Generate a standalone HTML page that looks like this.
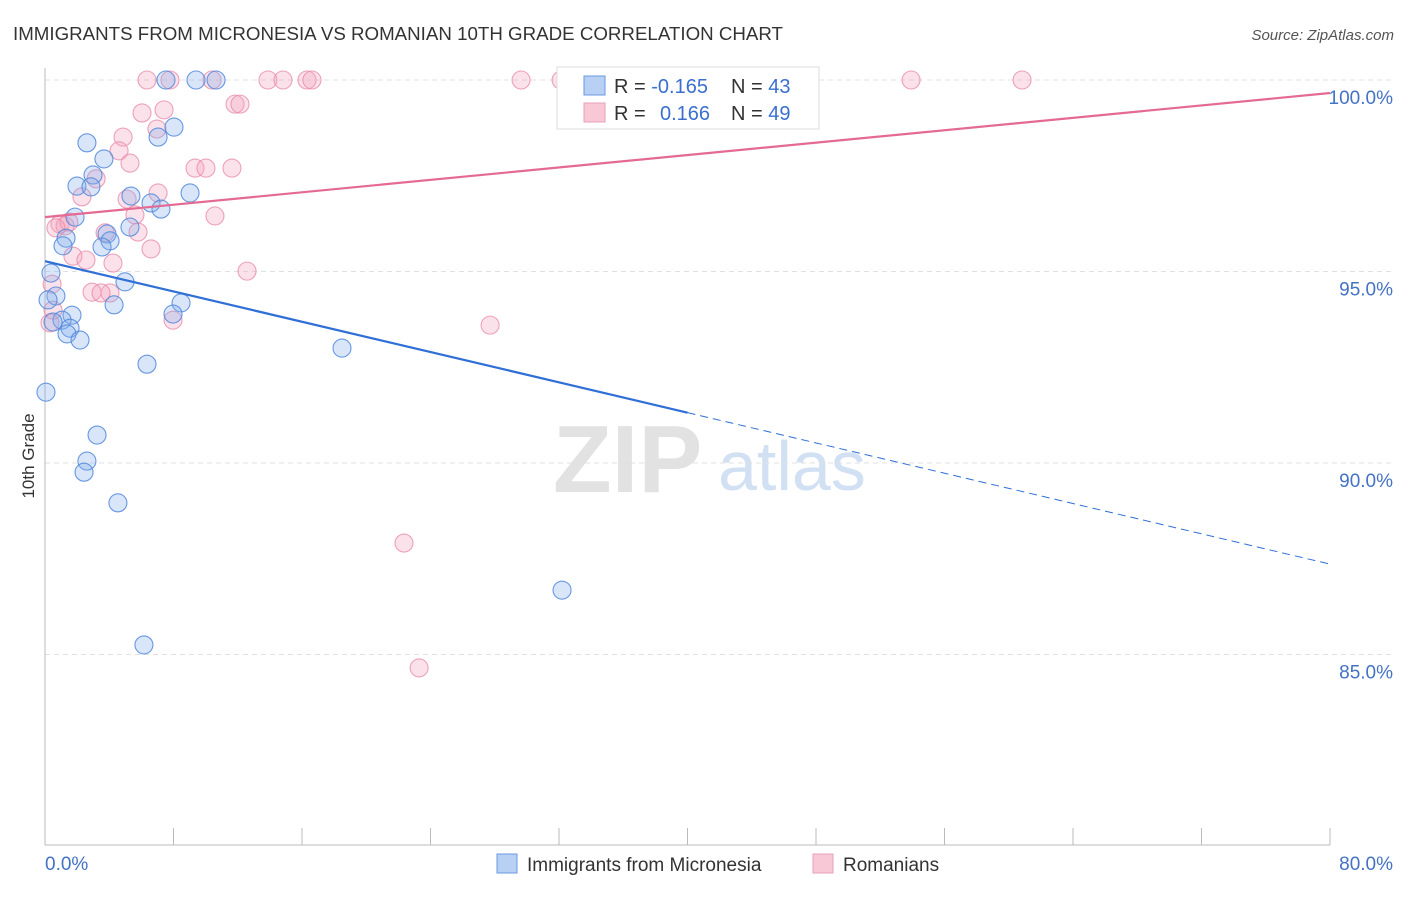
<!DOCTYPE html>
<html><head><meta charset="utf-8"><style>
body{margin:0;background:#fff;font-family:"Liberation Sans",sans-serif;}
svg text{font-family:"Liberation Sans",sans-serif;}
</style></head><body>
<svg id="chart" width="1406" height="892" xmlns="http://www.w3.org/2000/svg">
<text x="13" y="40" font-size="18" fill="#333" textLength="770" lengthAdjust="spacingAndGlyphs">IMMIGRANTS FROM MICRONESIA VS ROMANIAN 10TH GRADE CORRELATION CHART</text>
<text x="1394" y="40" font-size="15" fill="#555" text-anchor="end" font-style="italic">Source: ZipAtlas.com</text>
<g>
<text x="553" y="492" font-size="96" fill="#e2e2e2" font-family="Liberation Serif" font-weight="bold">ZIP</text>
<text x="718" y="490" font-size="70" fill="#d2e0f4">atlas</text>
</g>
<g id="grid"></g>
<g id="axes">
<line x1="45" y1="68" x2="45" y2="845" stroke="#bbb"/>
<line x1="45" y1="845" x2="1330" y2="845" stroke="#bbb"/>
</g>
<g id="marks"></g>
<text transform="translate(34,456) rotate(-90)" font-size="17" fill="#333" text-anchor="middle">10th Grade</text>
<text x="45" y="870" font-size="19" fill="#4472c4">0.0%</text>
<text x="1393" y="870" font-size="19" fill="#4472c4" text-anchor="end">80.0%</text>
<g>
<rect x="557" y="67" width="262" height="62" fill="#fff" stroke="#ddd"/>
<rect x="584" y="76" width="21" height="19" fill="#b8d0f4" stroke="#6a9ae0"/>
<rect x="584" y="103" width="21" height="19" fill="#f8c8d6" stroke="#eaa0b8"/>
<text x="614" y="93" font-size="20" fill="#333">R = <tspan fill="#3a6fd0">-0.165</tspan></text>
<text x="731" y="93" font-size="20" fill="#333">N = <tspan fill="#3a6fd0">43</tspan></text>
<text x="614" y="120" font-size="20" fill="#333">R = <tspan fill="#3a6fd0" x="660">0.166</tspan></text>
<text x="731" y="120" font-size="20" fill="#333">N = <tspan fill="#3a6fd0">49</tspan></text>
</g>
<g>
<rect x="497" y="854" width="20" height="19" fill="#b8d0f4" stroke="#6a9ae0"/>
<text x="527" y="871" font-size="19" fill="#333">Immigrants from Micronesia</text>
<rect x="813" y="854" width="20" height="19" fill="#f8c8d6" stroke="#eaa0b8"/>
<text x="843" y="871" font-size="19" fill="#333">Romanians</text>
</g>
</svg>
<script>
const yTicks=[100,95,90,85];
const yTickLabels=["100.0%","95.0%","90.0%","85.0%"];
const xTicks=[0,8,16,24,32,40,48,56,64,72,80];
const blueX=[7.53,9.40,10.65,2.61,8.03,7.04,3.67,1.99,2.99,2.86,5.35,9.03,6.60,7.22,1.87,5.29,1.31,3.86,4.05,1.12,3.55,0.37,4.98,0.68,0.19,4.30,8.47,7.97,1.68,1.06,0.50,1.56,1.37,2.18,18.49,6.35,0.06,3.24,2.61,2.43,4.54,32.19,6.16];
const blueY=[100,100,100,98.36,98.77,98.51,97.94,97.23,97.52,97.21,96.97,97.05,96.79,96.63,96.42,96.16,95.87,95.98,95.80,95.67,95.64,94.96,94.73,94.36,94.26,94.13,94.18,93.89,93.86,93.73,93.68,93.52,93.37,93.21,93.00,92.58,91.85,90.73,90.05,89.76,88.96,86.68,85.25];
const pinkX=[6.35,7.78,10.40,13.88,14.82,16.31,16.62,29.64,32.13,53.92,60.83,11.83,12.14,6.04,7.41,4.86,6.97,4.61,5.29,9.34,10.02,11.64,3.18,7.04,5.11,2.30,5.60,10.58,0.93,1.25,1.49,0.68,5.79,3.74,6.60,1.74,2.55,4.23,12.58,0.44,2.93,4.05,3.49,0.50,7.97,0.31,27.71,22.35,23.29];
const pinkY=[100,100,100,100,100,100,100,100,100,100,100,99.37,99.37,99.14,99.22,98.51,98.72,98.15,97.83,97.70,97.70,97.70,97.42,97.05,96.89,96.95,96.48,96.45,96.24,96.19,96.29,96.14,96.03,96.01,95.59,95.40,95.30,95.22,95.01,94.67,94.46,94.44,94.44,93.99,93.73,93.66,93.60,87.91,84.65];
const blueTrend=[95.27,87.36]; const blueSolidEnd=40;
const pinkTrend=[96.42,99.66];
const NS="http://www.w3.org/2000/svg";
const sx=v=>45+v/80*1285;
const sy=v=>80+(100-v)*38.3;
function mk(tag,attrs,parent){const e=document.createElementNS(NS,tag);for(const k in attrs)e.setAttribute(k,attrs[k]);parent.appendChild(e);return e;}
const grid=document.getElementById('grid'),axes=document.getElementById('axes'),marks=document.getElementById('marks');
yTicks.forEach((t,i)=>{
 const l=mk('line',{x1:45,x2:1393,y1:sy(t),y2:sy(t),stroke:'#e0e0e0','stroke-dasharray':'5,4'},grid);
 
 
 const tx=mk('text',{x:1393,y:sy(t)+24,'font-size':19,fill:'#4472c4','text-anchor':'end'},axes);
 tx.textContent=yTickLabels[i];
 
 
});
xTicks.forEach(t=>{
 const l=mk('line',{x1:sx(t),x2:sx(t),y1:828,y2:845,stroke:'#bbb'},axes);
 
 
});
function dots(X,Y,fill,stroke,name){
 X.forEach((x,i)=>{
  const c=mk('circle',{cx:sx(x),cy:sy(Y[i]),r:9,fill:fill,stroke:stroke,'stroke-width':1.1},marks);
  
  
 });
}
dots(pinkX,pinkY,'rgba(244,165,192,0.33)','rgba(232,140,170,0.8)','romanian-point');
dots(blueX,blueY,'rgba(130,172,236,0.3)','rgba(80,135,220,0.85)','micronesia-point');
const bm=blueTrend[0]+(blueTrend[1]-blueTrend[0])*blueSolidEnd/80;
let l1=mk('line',{x1:sx(0),y1:sy(blueTrend[0]),x2:sx(blueSolidEnd),y2:sy(bm),stroke:'#2f6fd6','stroke-width':2.2},marks);


let l2=mk('line',{x1:sx(blueSolidEnd),y1:sy(bm),x2:sx(80),y2:sy(blueTrend[1]),stroke:'#2f6fd6','stroke-width':1,'stroke-dasharray':'8,5'},marks);


let l3=mk('line',{x1:sx(0),y1:sy(pinkTrend[0]),x2:sx(80),y2:sy(pinkTrend[1]),stroke:'#e46a94','stroke-width':2.2},marks);


</script>
</body></html>
